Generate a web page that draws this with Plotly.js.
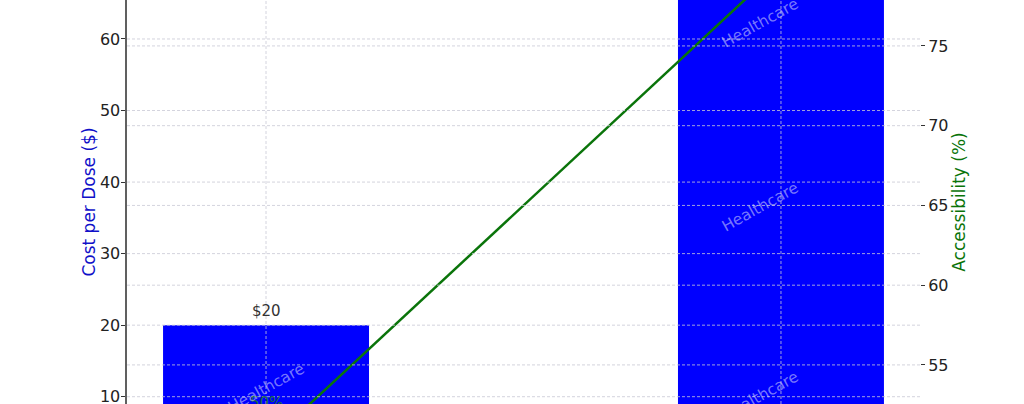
<!DOCTYPE html>
<html>
<head>
<meta charset="utf-8">
<script src="https://cdn.plot.ly/plotly-3.0.1.min.js"></script>
<style>
  html, body { margin: 0; padding: 0; background: #fff; }
  #myDiv { width: 1024px; height: 404px; }
</style>
</head>
<body>
<div id="myDiv"></div>
<script>
// chart values
var categories = ['Option A', 'Option B'];
var costPerDose = [20, 100];
var accessibility = [50, 80];

// tick values used for both axes and the grid
var costTicks = [10, 20, 30, 40, 50, 60];
var accessTicks = [55, 60, 65, 70, 75];

// watermark spots (category index, cost value)
var markX = [0, 0.96, 0.96, 0.96];
var markY = [11.2, 10.1, 36.5, 62.2];

function Draw() {

  var font = 'DejaVu Sans, sans-serif';
  var gridColor = 'rgba(200,200,212,0.8)';
  var labelOffset = 2.6;   // accessibility label sits this far above its point

  var bars = {
    x: categories,
    y: costPerDose,
    type: 'bar',
    width: 0.4,
    marker: { color: '#0000ff' },
    name: 'Cost per Dose',
    hoverinfo: 'none'
  };

  var line = {
    x: categories,
    y: accessibility,
    yaxis: 'y2',
    type: 'scatter',
    mode: 'lines',
    line: { color: '#0a740a', width: 2.5 },
    name: 'Accessibility',
    hoverinfo: 'none'
  };

  var data = [bars, line];

  // grid drawn on top of the bars like the original
  var shapes = [];
  costTicks.forEach(function (v) {
    shapes.push({ type: 'line', layer: 'above', xref: 'paper', x0: 0, x1: 1, yref: 'y', y0: v, y1: v,
      line: { color: gridColor, width: 1, dash: '3px,2px' } });
  });
  accessTicks.forEach(function (v) {
    shapes.push({ type: 'line', layer: 'above', xref: 'paper', x0: 0, x1: 1, yref: 'y2', y0: v, y1: v,
      line: { color: gridColor, width: 1, dash: '3px,2px' } });
  });
  categories.forEach(function (c) {
    shapes.push({ type: 'line', layer: 'above', xref: 'x', x0: c, x1: c, yref: 'paper', y0: 0, y1: 1,
      line: { color: gridColor, width: 1, dash: '3px,2px' } });
  });

  var annotations = [];
  // value labels on the bars
  categories.forEach(function (c, i) {
    annotations.push({ x: c, y: costPerDose[i], xref: 'x', yref: 'y', text: '$' + costPerDose[i],
      showarrow: false, yanchor: 'bottom', yshift: 3, font: { family: font, size: 15, color: '#333333' } });
  });
  // accessibility labels
  categories.forEach(function (c, i) {
    annotations.push({ x: c, y: accessibility[i] + labelOffset, xref: 'x', yref: 'y2', text: accessibility[i] + '%',
      showarrow: false, yanchor: 'middle', font: { family: font, size: 15, color: '#1b6b45' } });
  });
  // watermark
  markX.forEach(function (x, i) {
    annotations.push({ x: x, y: markY[i], xref: 'x', yref: 'y', text: 'Healthcare', showarrow: false,
      textangle: -29, font: { family: font, size: 15.5, color: 'rgba(220,220,250,0.55)' } });
  });

  var layout = {
    width: 1024,
    height: 404,
    margin: { l: 127, r: 104, t: 0, b: 0, pad: 0 },
    paper_bgcolor: '#ffffff',
    plot_bgcolor: '#ffffff',
    showlegend: false,
    font: { family: font, size: 16, color: '#222222' },
    xaxis: {
      type: 'category',
      range: [-0.27, 1.27],
      showgrid: false,
      zeroline: false,
      showticklabels: false,
      ticks: ''
    },
    yaxis: {
      range: [8.98, 65.45],
      tickvals: costTicks,
      showgrid: false,
      zeroline: false,
      showline: true,
      linecolor: '#606060',
      linewidth: 2.5,
      ticks: 'outside',
      ticklen: 4,
      tickcolor: '#333333',
      ticklabeloverflow: 'allow',
      ticklabelstandoff: -3,
      tickfont: { family: font, size: 16, color: '#222222' },
      title: { text: 'Cost per Dose ($)', standoff: 0, font: { family: font, size: 17, color: '#1010c8' } }
    },
    yaxis2: {
      overlaying: 'y',
      side: 'right',
      range: [52.55, 77.88],
      tickvals: accessTicks,
      showgrid: false,
      zeroline: false,
      showline: false,
      ticks: 'outside',
      ticklen: 4,
      tickcolor: '#333333',
      ticklabeloverflow: 'allow',
      tickfont: { family: font, size: 16, color: '#222222' },
      title: { text: 'Accessibility (%)', standoff: 3, font: { family: font, size: 17, color: '#0a740a' } }
    },
    shapes: shapes,
    annotations: annotations
  };

  Plotly.newPlot('myDiv', data, layout, { staticPlot: true });
}

Draw();
</script>
</body>
</html>
